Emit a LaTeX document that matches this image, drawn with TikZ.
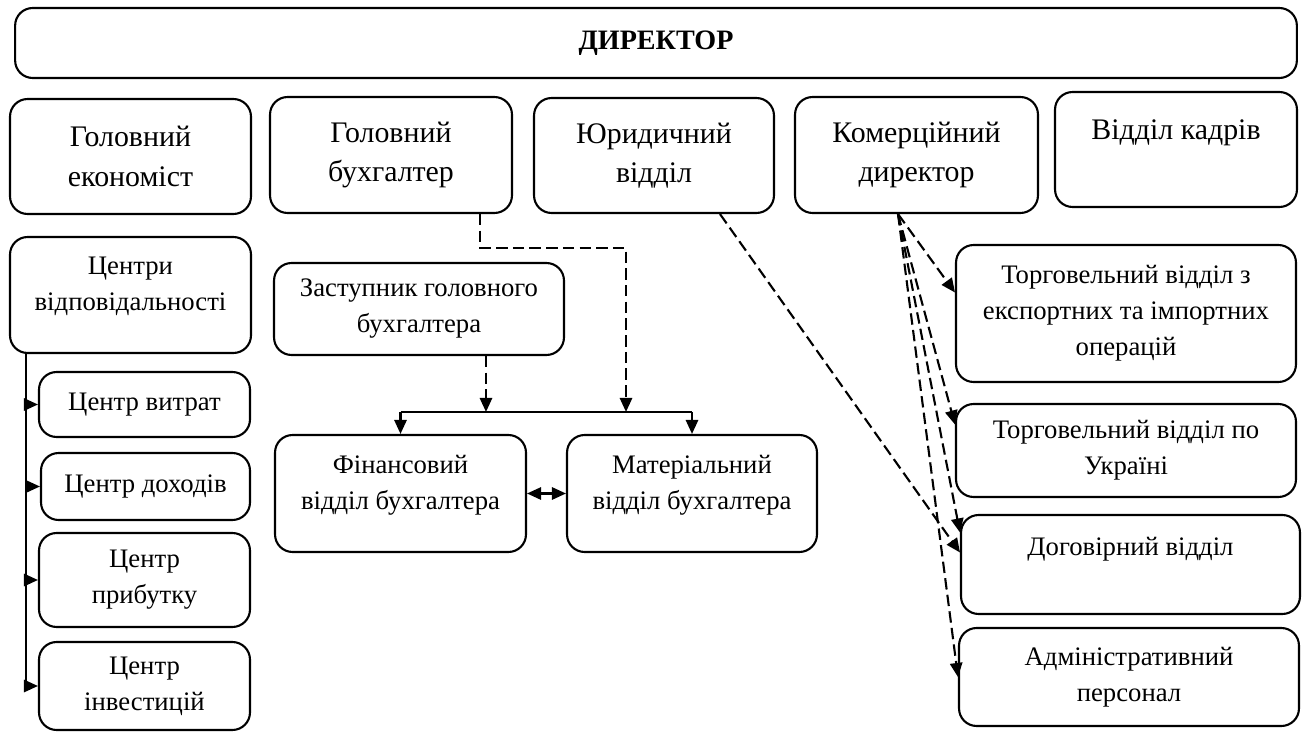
\documentclass[tikz,border=0pt]{standalone}
\usepackage{fontspec}
\setmainfont{Liberation Serif}
\usetikzlibrary{arrows.meta, positioning, calc}

\begin{document}
\begin{tikzpicture}[
    x=0.02cm, y=-0.02cm,
    dept/.style={draw, line width=1.2pt, rounded corners=10pt,
                 align=center, inner sep=2pt,
                 font=\fontsize{15.2}{20.5}\selectfont},
    head/.style={dept, font=\fontsize{17}{22.5}\selectfont},
    conn/.style={line width=1.2pt, -{Triangle[length=8pt, width=7pt]}},
    dconn/.style={conn, dash pattern=on 6.5pt off 3pt}
  ]
    \useasboundingbox (0,0) rectangle (1312,733);

    % top level
    \node[dept, font=\fontsize{16}{20}\selectfont,
          minimum width=25.64cm, minimum height=1.4cm] (dir) at (656,43)
      {\textbf{ДИРЕКТОР}};

    % second row
    \node[head, minimum width=4.82cm, minimum height=2.3cm] (ge) at (130.5,156.5)
      {Головний\\економіст};
    \node[head, minimum width=4.84cm, minimum height=2.32cm] (gb) at (391,155)
      {Головний\\бухгалтер};
    \node[head, minimum width=4.8cm, minimum height=2.3cm] (yur) at (654,155.5)
      {Юридичний\\відділ};
    \node[head, minimum width=4.86cm, minimum height=2.32cm] (kom) at (916.5,155)
      {Комерційний\\директор};
    \node[head, minimum width=4.84cm, minimum height=2.3cm] (vk) at (1176,149.5)
      {Відділ кадрів\\\mbox{}};

    % economist branch
    \node[dept, minimum width=4.82cm, minimum height=2.32cm] (cv) at (130.5,295)
      {Центри\\відповідальності\\[-8pt]\mbox{}};
    \node[dept, minimum width=4.22cm, minimum height=1.3cm] (c1) at (144.5,404.5)
      {Центр витрат};
    \node[dept, minimum width=4.18cm, minimum height=1.34cm] (c2) at (145.5,486.5)
      {Центр доходів};
    \node[dept, minimum width=4.22cm, minimum height=1.88cm] (c3) at (144.5,580)
      {Центр\\прибутку};
    \node[dept, minimum width=4.22cm, minimum height=1.76cm] (c4) at (144.5,686)
      {Центр\\інвестицій};

    % accountant branch
    \node[dept, minimum width=5.8cm, minimum height=1.84cm] (zast) at (419,309)
      {Заступник головного\\бухгалтера};
    \node[dept, minimum width=5.02cm, minimum height=2.34cm] (fin) at (400.5,493.5)
      {Фінансовий\\відділ бухгалтера\\[-8pt]\mbox{}};
    \node[dept, minimum width=5cm, minimum height=2.34cm] (mat) at (692,493.5)
      {Матеріальний\\відділ бухгалтера\\[-8pt]\mbox{}};

    % commercial branch
    \node[dept, minimum width=6.8cm, minimum height=2.74cm] (tv1) at (1126,313.5)
      {Торговельний відділ з\\експортних та імпортних\\операцій};
    \node[dept, minimum width=6.8cm, minimum height=1.86cm] (tvu) at (1126,450.5)
      {Торговельний відділ по\\Україні};
    \node[dept, minimum width=6.78cm, minimum height=1.98cm] (dog) at (1130.5,564.5)
      {Договірний відділ\\\mbox{}};
    \node[dept, minimum width=6.8cm, minimum height=1.96cm] (adm) at (1129,677)
      {Адміністративний\\персонал};

    % responsibility centres
    \coordinate (bus) at ([xshift=0.34cm]cv.south west);
    \draw[line width=1.2pt] (bus) -- (bus |- c4.west);
    \foreach \c in {c1, c2, c3, c4}
      \draw[conn] (bus |- \c.west) -- (\c.west);

    % accounting departments
    \coordinate (busl) at ([yshift=0.44cm]fin.north);
    \coordinate (busr) at ([yshift=0.44cm]mat.north);
    \draw[line width=1.2pt] (busl) -- (busr);
    \draw[conn] (busl) -- (fin.north);
    \draw[conn] (busr) -- (mat.north);
    \coordinate (gbout) at ([xshift=1.78cm]gb.south);
    \coordinate (gbturn) at (626,248);
    \draw[dconn] (gbout) |- (gbturn) -- (gbturn |- busl);
    \coordinate (zout) at ([xshift=1.34cm]zast.south);
    \draw[dconn] (zout) -- (zout |- busl);
    \draw[line width=1.2pt, {Triangle[length=8pt, width=7pt]}-{Triangle[length=8pt, width=7pt]}]
      (fin.east) -- (mat.west);

    % legal and commercial links
    \draw[dconn] ([xshift=1.32cm]yur.south) -- ([yshift=0.24cm]dog.west);
    \coordinate (komout) at ([xshift=-0.37cm]kom.south);
    \draw[dconn] (komout) -- ([yshift=0.42cm]tv1.west);
    \draw[dconn] (komout) -- ([yshift=0.52cm]tvu.west);
    \draw[dconn] (komout) -- ([yshift=0.64cm]dog.west);
    \draw[dconn] (komout) -- (adm.west);
  \end{tikzpicture}
\end{document}
